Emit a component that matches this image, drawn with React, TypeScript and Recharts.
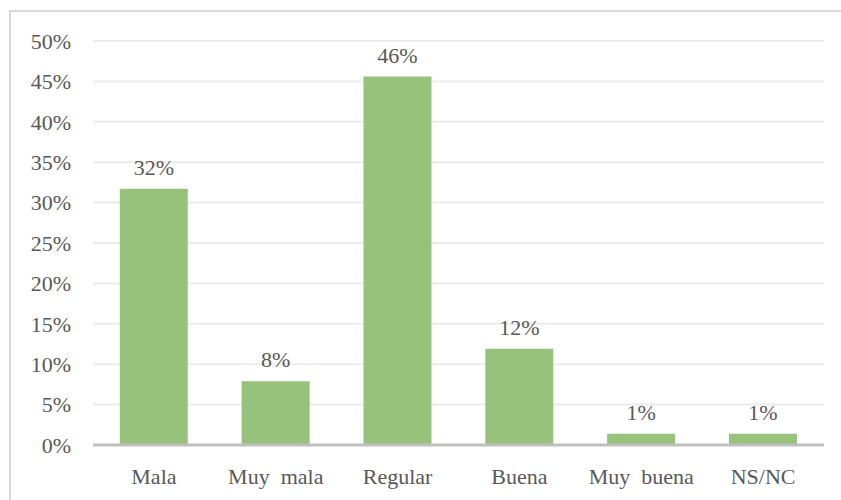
import React from "react";
import { BarChart, Bar, XAxis, YAxis, CartesianGrid, LabelList } from "recharts";

const categories = ["Mala", "Muy\u00a0 mala", "Regular", "Buena", "Muy\u00a0 buena", "NS/NC"];
const shares = [31.7, 7.9, 45.6, 11.9, 1.4, 1.4];
const shareLabels = ["32%", "8%", "46%", "12%", "1%", "1%"];
const yTicks = [0, 5, 10, 15, 20, 25, 30, 35, 40, 45, 50];

const chartData = categories.map((name, i) => ({
  name,
  share: shares[i],
  label: shareLabels[i],
}));

const font = "'Liberation Serif', 'Times New Roman', serif";
const textColor = "#595959";

export default function App() {
  return (
    <div
      style={{
        position: "absolute",
        left: 0,
        top: 0,
        width: 841,
        height: 500,
        overflow: "hidden",
        background: "#fff",
      }}
    >
      <div
        style={{
          position: "absolute",
          left: 9,
          top: 10,
          width: 900,
          height: 600,
          border: "2px solid #d9d9d9",
        }}
      />
      <div style={{ position: "absolute", left: 0, top: 0 }}>
        <BarChart
          width={841}
          height={500}
          data={chartData}
          margin={{ top: 41, right: 17, bottom: 25, left: 0 }}
          barCategoryGap="22%"
        >
          <CartesianGrid vertical={false} stroke="#ececec" strokeWidth={2} />
          <XAxis
            dataKey="name"
            axisLine={{ stroke: "#bfbfbf", strokeWidth: 3 }}
            tickLine={false}
            tickSize={0}
            tickMargin={23}
            interval={0}
            tick={{ fontSize: 22, fill: textColor, fontFamily: font }}
          />
          <YAxis
            width={93}
            domain={[0, 50]}
            ticks={yTicks}
            axisLine={false}
            tickLine={false}
            tickSize={0}
            tickMargin={22}
            tickFormatter={(v: number) => `${v}%`}
            tick={{ fontSize: 22, fill: textColor, fontFamily: font }}
          />
          <Bar dataKey="share" fill="#97c27b" isAnimationActive={false}>
            <LabelList
              dataKey="label"
              position="top"
              offset={14}
              style={{ fontSize: 22, fill: textColor, fontFamily: font }}
            />
          </Bar>
        </BarChart>
      </div>
    </div>
  );
}
